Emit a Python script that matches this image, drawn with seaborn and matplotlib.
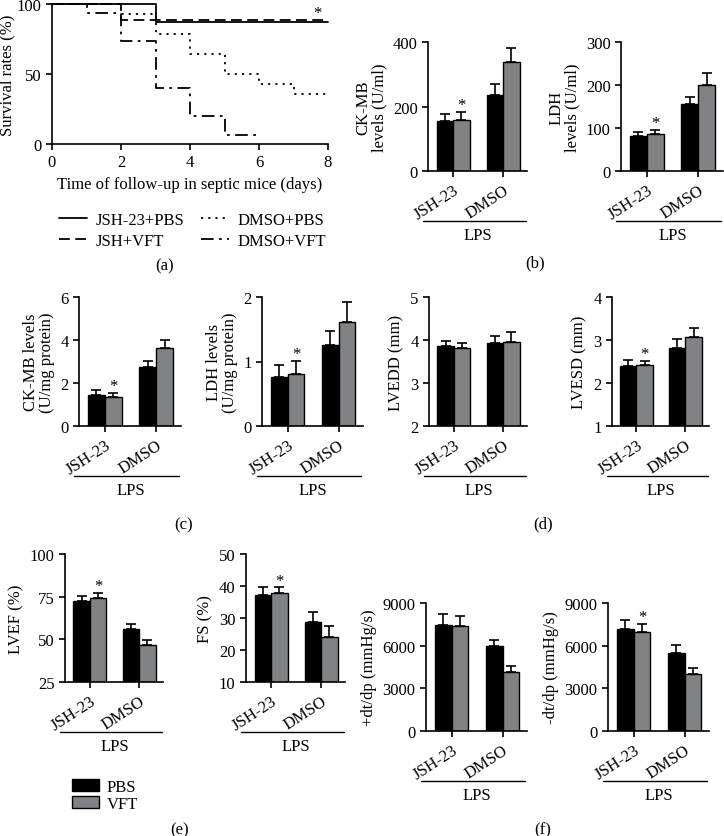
import numpy as np
import pandas as pd
import matplotlib
matplotlib.use("Agg")
import matplotlib.pyplot as plt
from matplotlib.lines import Line2D
from matplotlib.patches import Patch
import seaborn as sns

# ---- data ----
# survival (Kaplan-Meier steps)
surv_jsh_pbs_t = [0, 3, 8]
surv_jsh_pbs_s = [100, 87.5, 87.5]
surv_jsh_vft_t = [0, 2, 8]
surv_jsh_vft_s = [100, 88.9, 88.9]
surv_dmso_pbs_t = [0, 2, 3, 4, 5, 6, 7, 8]
surv_dmso_pbs_s = [100, 92.9, 78.6, 64.3, 50, 42.9, 35.7, 35.7]
surv_dmso_vft_t = [0, 1, 2, 3, 4, 5, 6]
surv_dmso_vft_s = [100, 93.3, 73.3, 40, 20, 6.7, 6.7]

groups = ["JSH-23", "DMSO"]
treatments = ["PBS", "VFT"]

ckmb_serum_pbs, ckmb_serum_pbs_err = [156, 236], [21, 34]
ckmb_serum_vft, ckmb_serum_vft_err = [159, 338], [25, 43]
ldh_serum_pbs, ldh_serum_pbs_err = [82, 155], [8, 16]
ldh_serum_vft, ldh_serum_vft_err = [87, 199], [9, 28]
ckmb_tissue_pbs, ckmb_tissue_pbs_err = [1.43, 2.75], [0.24, 0.28]
ckmb_tissue_vft, ckmb_tissue_vft_err = [1.35, 3.64], [0.19, 0.38]
ldh_tissue_pbs, ldh_tissue_pbs_err = [0.76, 1.26], [0.19, 0.22]
ldh_tissue_vft, ldh_tissue_vft_err = [0.80, 1.61], [0.21, 0.32]
lvedd_pbs, lvedd_pbs_err = [3.85, 3.93], [0.13, 0.16]
lvedd_vft, lvedd_vft_err = [3.82, 3.96], [0.10, 0.23]
lvesd_pbs, lvesd_pbs_err = [2.39, 2.81], [0.15, 0.22]
lvesd_vft, lvesd_vft_err = [2.41, 3.07], [0.11, 0.20]
lvef_pbs, lvef_pbs_err = [72.5, 55.9], [2.9, 3.3]
lvef_vft, lvef_vft_err = [74.2, 46.7], [3.1, 2.9]
fs_pbs, fs_pbs_err = [37.3, 28.9], [2.5, 3.0]
fs_vft, fs_vft_err = [37.7, 24.2], [1.9, 3.3]
pdtdp_pbs, pdtdp_pbs_err = [7450, 5950], [750, 420]
pdtdp_vft, pdtdp_vft_err = [7360, 4150], [700, 400]
ndtdp_pbs, ndtdp_pbs_err = [7150, 5510], [680, 515]
ndtdp_vft, ndtdp_vft_err = [6960, 3985], [560, 445]

# ---- style ----
sns.set_style("ticks")
plt.rcParams["font.family"] = ["Liberation Serif", "DejaVu Serif"]
plt.rcParams["font.size"] = 12
plt.rcParams["axes.linewidth"] = 1.2
plt.rcParams["xtick.major.width"] = 1.2
plt.rcParams["ytick.major.width"] = 1.2
plt.rcParams["xtick.major.size"] = 4
plt.rcParams["ytick.major.size"] = 4
plt.rcParams["xtick.color"] = "black"
plt.rcParams["ytick.color"] = "black"
plt.rcParams["text.color"] = "black"
plt.rcParams["axes.labelcolor"] = "black"
plt.rcParams["axes.edgecolor"] = "black"

W, H = 724, 837
fig = plt.figure(figsize=(W / 100, H / 100), dpi=100)


def px_axes(left, top, right, bottom):
    return fig.add_axes([left / W, 1 - bottom / H, (right - left) / W, (bottom - top) / H])


palette = {"PBS": "black", "VFT": "#808285"}

# ---- (a) survival ----
ax = px_axes(52, 5, 328, 145)
curves = [
    (surv_jsh_pbs_t, surv_jsh_pbs_s, "-", "JSH-23+PBS"),
    (surv_jsh_vft_t, surv_jsh_vft_s, (0, (6, 3)), "JSH+VFT"),
    (surv_dmso_pbs_t, surv_dmso_pbs_s, (0, (1.2, 2.8)), "DMSO+PBS"),
    (surv_dmso_vft_t, surv_dmso_vft_s, (0, (7, 3, 1.5, 3)), "DMSO+VFT"),
]
for t, s, ls, name in curves:
    sns.lineplot(x=t, y=s, ax=ax, drawstyle="steps-post", color="black",
                 linestyle=ls, linewidth=1.3, estimator=None, clip_on=False)
ax.set_xlim(0, 8)
ax.set_ylim(0, 100)
ax.set_xticks([0, 2, 4, 6, 8])
ax.set_yticks([0, 50, 100])
ax.set_xlabel("Time of follow-up in septic mice (days)", fontsize=12)
ax.set_ylabel("Survival rates (%)", fontsize=12, labelpad=1)
ax.tick_params(labelsize=12)
sns.despine(ax=ax)
ax.text(7.7, 88, "*", ha="center", va="bottom", fontsize=12)

handles = [Line2D([], [], color="black", linestyle=ls, linewidth=1.3) for _, _, ls, _ in curves]
labels = [c[3] for c in curves]
fig.legend(handles, labels, ncol=2, loc="upper left", frameon=False,
           bbox_to_anchor=(44 / W, 1 - 198 / H), handlelength=1.7,
           columnspacing=1.0, labelspacing=0.3, handletextpad=0.5, fontsize=12)

# ---- bar panels ----
panels = [
    ("CK-MB\nlevels (U/ml)", (0, 400), [0, 200, 400], ckmb_serum_pbs, ckmb_serum_pbs_err,
     ckmb_serum_vft, ckmb_serum_vft_err, True, (428, 43, 527, 172)),
    ("LDH\nlevels (U/ml)", (0, 300), [0, 100, 200, 300], ldh_serum_pbs, ldh_serum_pbs_err,
     ldh_serum_vft, ldh_serum_vft_err, True, (621, 43, 723, 172)),
    ("CK-MB levels\n(U/mg protein)", (0, 6), [0, 2, 4, 6], ckmb_tissue_pbs, ckmb_tissue_pbs_err,
     ckmb_tissue_vft, ckmb_tissue_vft_err, True, (79, 298, 181, 427)),
    ("LDH levels\n(U/mg protein)", (0, 2), [0, 1, 2], ldh_tissue_pbs, ldh_tissue_pbs_err,
     ldh_tissue_vft, ldh_tissue_vft_err, True, (262, 298, 363, 427)),
    ("LVEDD (mm)", (2, 5), [2, 3, 4, 5], lvedd_pbs, lvedd_pbs_err,
     lvedd_vft, lvedd_vft_err, False, (429, 298, 527, 427)),
    ("LVESD (mm)", (1, 4), [1, 2, 3, 4], lvesd_pbs, lvesd_pbs_err,
     lvesd_vft, lvesd_vft_err, True, (612, 298, 709, 427)),
    ("LVEF (%)", (25, 100), [25, 50, 75, 100], lvef_pbs, lvef_pbs_err,
     lvef_vft, lvef_vft_err, True, (65, 555, 163, 683)),
    ("FS (%)", (10, 50), [10, 20, 30, 40, 50], fs_pbs, fs_pbs_err,
     fs_vft, fs_vft_err, True, (246, 555, 345, 683)),
    ("+dt/dp (mmHg/s)", (0, 9000), [0, 3000, 6000, 9000], pdtdp_pbs, pdtdp_pbs_err,
     pdtdp_vft, pdtdp_vft_err, False, (426, 604, 527, 732)),
    ("-dt/dp (mmHg/s)", (0, 9000), [0, 3000, 6000, 9000], ndtdp_pbs, ndtdp_pbs_err,
     ndtdp_vft, ndtdp_vft_err, True, (608, 604, 709, 732)),
]

bar_w = 0.66
for ylabel, ylim, yticks, pbs, pbs_err, vft, vft_err, star, rect in panels:
    ax = px_axes(*rect)
    df = pd.DataFrame({
        "group": groups * 2,
        "treatment": ["PBS"] * 2 + ["VFT"] * 2,
        "value": list(pbs) + list(vft),
    })
    sns.barplot(data=df, x="group", y="value", hue="treatment", order=groups,
                hue_order=treatments, palette=palette, edgecolor="black",
                linewidth=1.0, errorbar=None, width=bar_w, legend=False, ax=ax)
    off = bar_w / 4
    xs = np.arange(len(groups))
    for vals, errs, dx in [(pbs, pbs_err, -off), (vft, vft_err, off)]:
        ax.errorbar(xs + dx, vals, yerr=[np.zeros(len(vals)), errs], fmt="none",
                    ecolor="black", elinewidth=1.2, capsize=3.5, capthick=1.2, zorder=1)
    ax.set_xlim(-0.5, 1.48)
    ax.set_ylim(*ylim)
    ax.set_yticks(yticks)
    ax.set_xlabel("")
    ax.set_ylabel(ylabel, fontsize=12, linespacing=1.0)
    ax.tick_params(axis="y", labelsize=12)
    ax.set_xticks(xs)
    ax.set_xticklabels(groups, rotation=33, ha="right", rotation_mode="anchor", fontsize=12)
    sns.despine(ax=ax)
    if star:
        ax.annotate("*", xy=(off, vft[0] + vft_err[0]), xytext=(0, -1),
                    textcoords="offset points", ha="center", va="bottom", fontsize=12)
    # LPS bracket line beneath the group labels
    ax.plot([-0.6, 1.45], [-0.39, -0.39], color="black", linewidth=1.0,
            transform=ax.get_xaxis_transform(), clip_on=False)
    ax.text(0.5, -0.50, "LPS", transform=ax.get_xaxis_transform(),
            ha="center", va="center", fontsize=12)

# PBS / VFT legend
fig.legend([Patch(facecolor=palette["PBS"], edgecolor="black"),
            Patch(facecolor=palette["VFT"], edgecolor="black")],
           treatments, loc="upper left", frameon=False,
           bbox_to_anchor=(57 / W, 1 - 765 / H), handlelength=1.6, handleheight=0.75,
           labelspacing=0.05, handletextpad=0.5, fontsize=12)

# panel letters
for lbl, x, y in [("(a)", 165, 266), ("(b)", 535, 263), ("(c)", 184, 525),
                  ("(d)", 543, 524), ("(e)", 180, 830), ("(f)", 543, 830)]:
    fig.text(x / W, 1 - y / H, lbl, ha="center", va="center", fontsize=12)

fig.savefig("out.png", dpi=100)
